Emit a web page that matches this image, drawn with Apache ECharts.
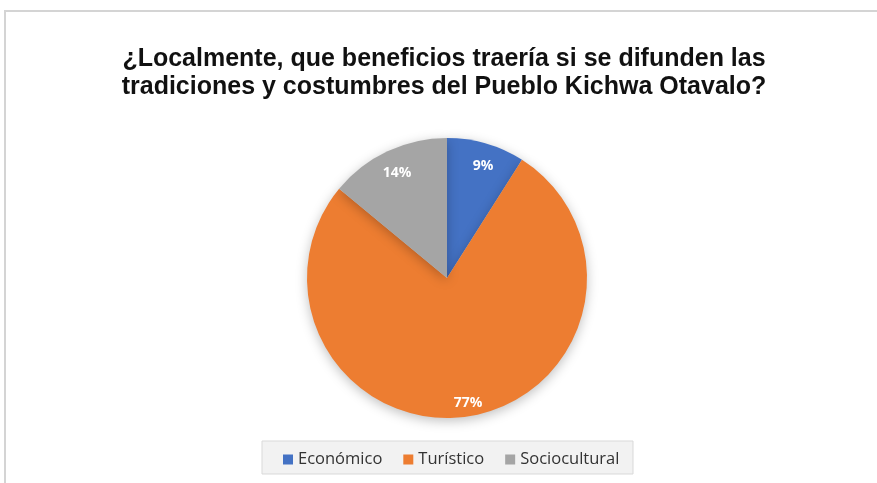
<!DOCTYPE html>
<html>
<head>
<meta charset="utf-8">
<script src="https://cdn.jsdelivr.net/npm/echarts@6/dist/echarts.min.js"></script>
<style>html,body{margin:0;padding:0;background:#fff;}#c{width:877px;height:483px;}</style>
</head>
<body>
<div id="c"></div>
<script>
const titleLines = ['¿Localmente, que beneficios traería si se difunden las', 'tradiciones y costumbres del Pueblo Kichwa Otavalo?'];
const categories = ['Económico', 'Turístico', 'Sociocultural'];
const values = [9, 77, 14];
const colors = ['#4472c4', '#ed7d31', '#a5a5a5'];

const data = categories.map((n, i) => ({ name: n, value: values[i], itemStyle: { color: colors[i] } }));
const chart = echarts.init(document.getElementById('c'));
chart.setOption({
  animation: false,
  backgroundColor: '#fff',
  graphic: [
    { type: 'rect', shape: { x: 5, y: 11, width: 900, height: 500 }, style: { fill: 'none', stroke: '#d4d4d4', lineWidth: 2 }, z: -10 },
    { type: 'rect', shape: { x: 262, y: 441, width: 371, height: 33 }, style: { fill: '#f2f2f2', stroke: '#d9d9d9', lineWidth: 1 }, z: -5 }
  ],
  title: {
    text: titleLines.join('\n'),
    left: 439, textAlign: 'center', top: 40,
    textStyle: { fontFamily: 'Liberation Sans, Arial', fontWeight: 'bold', fontSize: 25, color: '#111', lineHeight: 28 }
  },
  legend: {
    data: categories.map((n, i) => ({ name: n, itemStyle: { color: colors[i] } })),
    top: 446, left: 278,
    icon: 'rect', itemWidth: 10, itemHeight: 10, itemGap: 21,
    textStyle: { fontFamily: 'Open Sans', fontSize: 16.5, color: '#333' }
  },
  series: [
    {
      type: 'pie', center: [447, 278], radius: [0, 140], startAngle: 90, clockwise: true,
      data: data, label: { show: false }, labelLine: { show: false },
      itemStyle: { shadowBlur: 12, shadowColor: 'rgba(0,0,0,0.25)', shadowOffsetY: 3 },
      emphasis: { disabled: true }
    },
    {
      type: 'pie', center: [447, 278], radius: [98, 140], startAngle: 90, clockwise: true, silent: true,
      data: categories.map((n, i) => ({ name: n, value: values[i] })),
      itemStyle: { color: 'rgba(0,0,0,0)' },
      label: { show: true, position: 'inside', formatter: '{c}%', color: '#fff', fontFamily: 'Open Sans', fontWeight: 'bold', fontSize: 14, offset: [2, 5] },
      labelLine: { show: false },
      emphasis: { disabled: true }
    }
  ]
});
</script>
</body>
</html>
